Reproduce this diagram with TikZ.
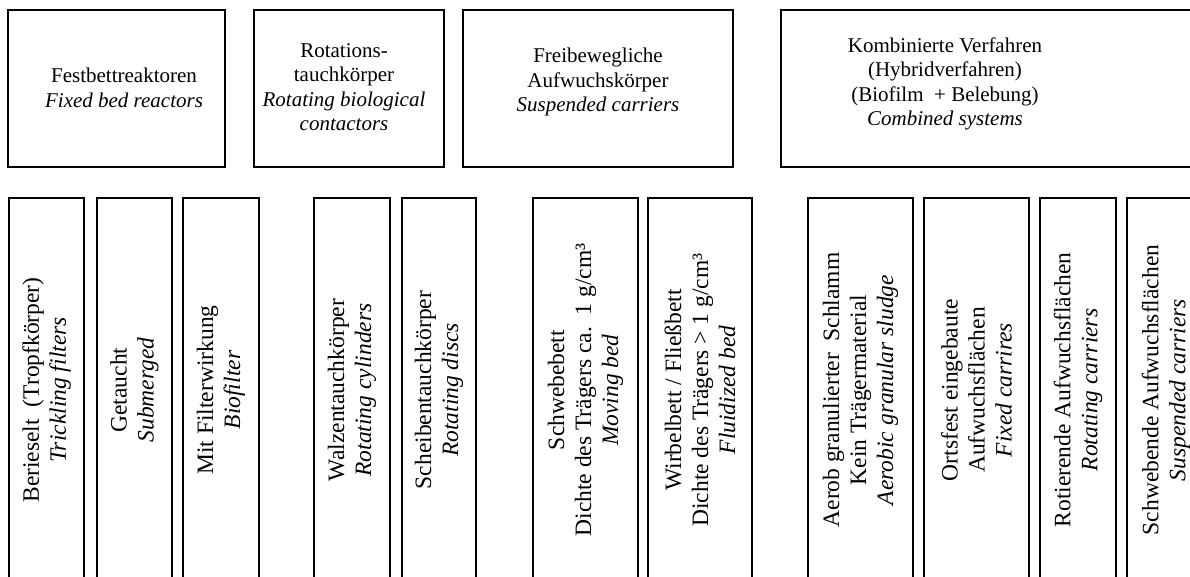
\documentclass[tikz,border=0pt]{standalone}
\usepackage{fontspec}
\setmainfont{Liberation Serif}
\usetikzlibrary{fit}
\tikzset{
  box/.style={draw=black, line width=1.3pt, inner sep=0pt},
  toptxt/.style={align=center, font=\fontsize{21}{24.5}\selectfont, inner sep=0pt},
  bottxt/.style={align=center, rotate=90, font=\fontsize{23.5}{27}\selectfont, inner sep=0pt},
}
\begin{document}
\begin{tikzpicture}[x=1pt,y=-1pt]
\useasboundingbox (0,0) rectangle (1190,576);
\fill[white] (0,0) rectangle (1190,576);
\clip (0,0) rectangle (1190,576);
% top boxes
\node[box, fit={(8,10) (225,167)}] (t1) {};
\node[box, fit={(254,10) (444,167)}] (t2) {};
\node[box, fit={(463,10) (733,167)}] (t3) {};
\node[box, fit={(781,10) (1210,167)}] (t4) {};
\node[toptxt] (t1l) at (124,88) {Festbettreaktoren\\\textit{Fixed bed reactors}};
\node[toptxt] (t2l) at (344,87) {Rotations-\\tauchkörper\\\textit{Rotating biological}\\\textit{contactors}};
\node[toptxt] (t3l) at (598,82) {Freibewegliche\\Aufwuchskörper\\\textit{Suspended carriers}};
\node[toptxt] (t4l) at (945,84) {Kombinierte Verfahren\\(Hybridverfahren)\\(Biofilm\ \ + Belebung)\\\textit{Combined systems}};
% bottom boxes
\node[box, fit={(9,198) (84,582)}] (b1) {};
\node[box, fit={(97,198) (172,582)}] (b2) {};
\node[box, fit={(183,198) (259,582)}] (b3) {};
\node[box, fit={(314,198) (390,582)}] (b4) {};
\node[box, fit={(402,198) (476,582)}] (b5) {};
\node[box, fit={(533,198) (638,582)}] (b6) {};
\node[box, fit={(648,198) (752,582)}] (b7) {};
\node[box, fit={(808,198) (913,582)}] (b8) {};
\node[box, fit={(924,198) (1029,582)}] (b9) {};
\node[box, fit={(1040,198) (1116,582)}] (b10) {};
\node[box, fit={(1127,198) (1205,582)}] (b11) {};
% bottom labels
\node[bottxt] (l1) at (b1.center) {Berieselt\ \ (Tropfkörper)\\\textit{Trickling filters}};
\node[bottxt] (l2) at (b2.center) {Getaucht\\\textit{Submerged}};
\node[bottxt] (l3) at (b3.center) {Mit Filterwirkung\\\textit{Biofilter}};
\node[bottxt] (l4) at (b4.center) {Walzentauchkörper\\\textit{Rotating cylinders}};
\node[bottxt] (l5) at (b5.center) {Scheibentauchkörper\\\textit{Rotating discs}};
\node[bottxt] (l6) at (b6.center) {Schwebebett\\Dichte des Trägers ca.\ \ 1 g/cm³\\\textit{Moving bed}};
\node[bottxt] (l7) at (b7.center) {Wirbelbett / Fließbett\\Dichte des Trägers > 1 g/cm³\\\textit{Fluidized bed}};
\node[bottxt] (l8) at (b8.center) {Aerob granulierter\ \ Schlamm\\Kein Trägermaterial\\\textit{Aerobic granular sludge}};
\node[bottxt] (l9) at (b9.center) {Ortsfest eingebaute\\Aufwuchsflächen\\\textit{Fixed carrires}};
\node[bottxt] (l10) at (b10.center) {Rotierende Aufwuchsflächen\\\textit{Rotating carriers}};
\node[bottxt] (l11) at (b11.center) {Schwebende Aufwuchsflächen\\\textit{Suspended carriers}};
\end{tikzpicture}
\end{document}
